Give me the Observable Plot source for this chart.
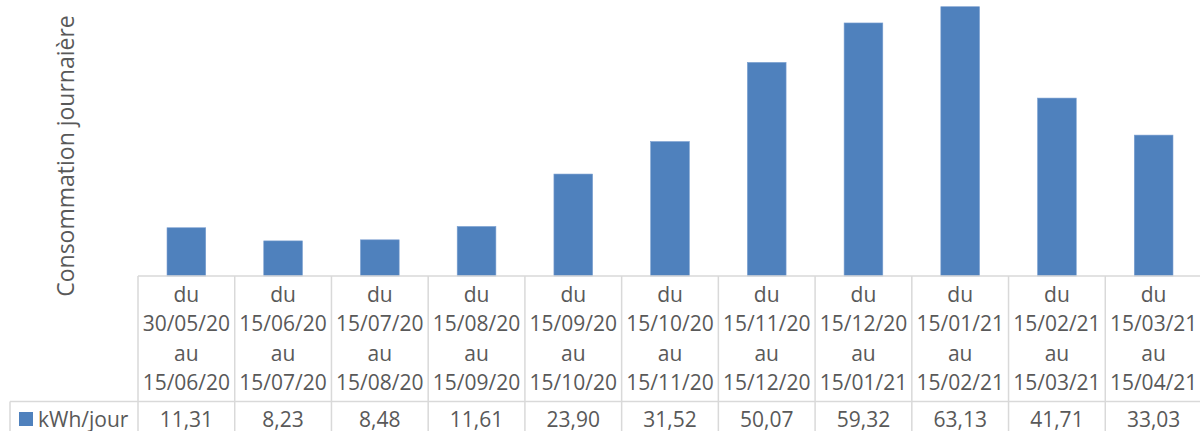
<!DOCTYPE html>
<html>
<head>
<meta charset="utf-8">
<script src="https://cdn.jsdelivr.net/npm/d3@7"></script>
<script src="https://cdn.jsdelivr.net/npm/@observablehq/plot@0.6"></script>
<style>
  html, body { margin: 0; padding: 0; background: #fff; }
  svg { display: block; }
</style>
</head>
<body>
<script>
// ---- Data ----
const periodStart = ["30/05/20", "15/06/20", "15/07/20", "15/08/20", "15/09/20", "15/10/20", "15/11/20", "15/12/20", "15/01/21", "15/02/21", "15/03/21"];
const periodEnd   = ["15/06/20", "15/07/20", "15/08/20", "15/09/20", "15/10/20", "15/11/20", "15/12/20", "15/01/21", "15/02/21", "15/03/21", "15/04/21"];
const kwhPerDay   = [11.31, 8.23, 8.48, 11.61, 23.90, 31.52, 50.07, 59.32, 63.13, 41.71, 33.03];
const seriesName  = "kWh/jour";
const yTitle      = "Consommation journaière";

const categories = periodStart.map((s, i) => `du ${s} au ${periodEnd[i]}`);
const data = categories.map((c, i) => ({cat: c, start: periodStart[i], end: periodEnd[i], value: kwhPerDay[i]}));

const W = 1200, H = 431;
const marginLeft = 138, marginRight = -2, marginTop = 3, marginBottom = 155;
const colW = (W - marginLeft - marginRight) / categories.length;

const FONT = "'Open Sans', 'Noto Sans', sans-serif";
const TXT = "#595959";
const GRID = "#d9d9d9";
const BAR = "#4f81bd";
const fmt = v => v.toFixed(2).replace(".", ",");

// Data table drawn beneath the plot, positioned with Plot's own scales
function dataTable(index, scales, values, dims) {
  const x = scales.x, y = scales.y;
  const bw = typeof x.bandwidth === "function" ? x.bandwidth() : x.bandwidth;
  const y0 = y(0);
  const rowLine = y0 + 125.5;
  const bottom = dims.height + 2;
  const g = d3.create("svg:g");

  const lines = g.append("g").attr("stroke", GRID).attr("stroke-width", 1.5).attr("fill", "none");
  lines.append("line").attr("x1", x(categories[0])).attr("x2", dims.width + 5).attr("y1", y0).attr("y2", y0);
  lines.append("line").attr("x1", 10).attr("x2", dims.width + 5).attr("y1", rowLine).attr("y2", rowLine);
  for (const c of categories) {
    lines.append("line").attr("x1", x(c)).attr("x2", x(c)).attr("y1", y0).attr("y2", bottom);
  }
  const last = categories[categories.length - 1];
  lines.append("line").attr("x1", x(last) + bw).attr("x2", x(last) + bw).attr("y1", y0).attr("y2", bottom);
  lines.append("line").attr("x1", 10).attr("x2", 10).attr("y1", rowLine).attr("y2", bottom);

  const t = g.append("g").attr("fill", TXT).attr("font-family", FONT).attr("font-size", 21).attr("text-anchor", "middle");
  const offs = [25.5, 55, 84.5, 113.5];
  for (const d of data) {
    const cx = x(d.cat) + bw / 2;
    ["du", d.start, "au", d.end].forEach((s, k) => t.append("text").attr("x", cx).attr("y", y0 + offs[k]).text(s));
    t.append("text").attr("x", cx).attr("y", y0 + 150.5).text(fmt(d.value));
  }

  // legend key in table
  g.append("rect").attr("x", 19).attr("y", y0 + 136).attr("width", 14).attr("height", 14).attr("fill", BAR);
  g.append("text").attr("x", 38).attr("y", y0 + 150.5).attr("fill", TXT).attr("text-anchor", "start")
    .attr("font-family", FONT).attr("font-size", 21).text(seriesName);

  // y axis title
  g.append("text").attr("transform", `translate(74,156) rotate(-90)`)
    .attr("text-anchor", "middle").attr("fill", TXT)
    .attr("font-family", FONT).attr("font-size", 23).text(yTitle);

  return g.node();
}

const chart = Plot.plot({
  width: W,
  height: H,
  marginLeft, marginRight, marginTop, marginBottom,
  style: {background: "#fff", overflow: "visible"},
  x: {type: "band", domain: categories, padding: 0, round: false, axis: null},
  y: {domain: [0, 64], axis: null},
  marks: [
    Plot.barY(data, {x: "cat", y: "value", fill: BAR, stroke: "#7a9fd0", strokeWidth: 0.6,
      insetLeft: colW * 0.3, insetRight: colW * 0.3}),
    dataTable
  ]
});
document.body.appendChild(chart);
</script>
</body>
</html>
